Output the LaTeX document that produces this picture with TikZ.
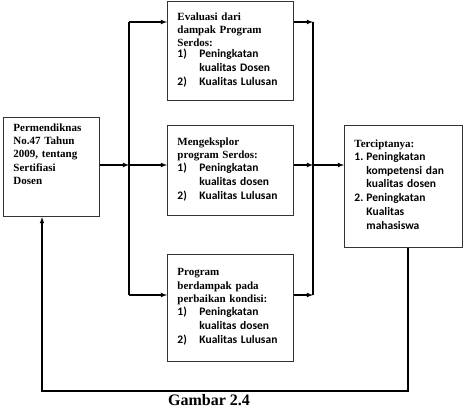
\documentclass[tikz,border=0pt]{standalone}
\usepackage{fontspec}
\setmainfont{Liberation Serif}
\newfontfamily\calibri{Carlito}
\usepackage{tikz}

\newcommand{\lst}[1]{{\calibri\bfseries\fontsize{11.5}{13.8}\selectfont\begin{tabular}{@{}p{22pt}@{}l@{}}#1\end{tabular}}}
\newcommand{\lstb}[1]{{\calibri\bfseries\fontsize{11.5}{13.8}\selectfont\begin{tabular}{@{}p{12pt}@{}l@{}}#1\end{tabular}}}

\begin{document}
\begin{tikzpicture}[x=1pt,y=-1pt,
	kotak/.style={draw=black!80,line width=0.9pt,anchor=north west,align=left,
		inner xsep=10pt,inner ysep=6pt,
		font=\fontsize{11}{13.4}\selectfont\bfseries},
	panah/.style={-latex,line width=1.1pt},
	garis/.style={line width=1.1pt}]
\useasboundingbox (0,0) rectangle (465,412);
\path (3,117) node[kotak,text width=76pt,minimum height=99pt] (perm)
			{Permendiknas\\No.47 Tahun\\2009, tentang\\Sertifiasi\\Dosen\rule[-26pt]{0pt}{0pt}}
		(167,1) node[kotak,text width=106pt,minimum height=99pt] (eval)
			{Evaluasi dari\\dampak Program\\Serdos:\\
			\lst{1) & Peningkatan\\ & kualitas Dosen\\ 2) & Kualitas Lulusan}}
		(167,125) node[kotak,text width=106pt,minimum height=90pt] (eksplor)
			{Mengeksplor\\program Serdos:\\
			\lst{1) & Peningkatan\\ & kualitas dosen\\ 2) & Kualitas Lulusan}}
		(167,254) node[kotak,text width=106pt,minimum height=107pt] (dampak)
			{Program\\berdampak pada\\perbaikan kondisi:\\
			\lst{1) & Peningkatan\\ & kualitas dosen\\ 2) & Kualitas Lulusan}\rule[-16pt]{0pt}{0pt}}
		(344,125) node[kotak,text width=98pt,minimum height=122pt] (tercipta)
			{Terciptanya:\\
			\lstb{1. & Peningkatan\\ & kompetensi dan\\ & kualitas dosen\\
			2. & Peningkatan\\ & Kualitas\\ & mahasiswa}}
		(209,400) node[font=\fontsize{16}{18}\selectfont\bfseries] (gambar) {Gambar 2.4}
		;
\coordinate (l1) at (129,22);
\coordinate (l2) at (129,165);
\coordinate (l3) at (129,295);
\coordinate (r1) at (313,22);
\coordinate (r2) at (313,165);
\coordinate (r3) at (313,295);
\coordinate (fb) at (408,391);
\coordinate (fb2) at (42,391);
\draw[panah] (perm.east |- l2) -- (l2);
\draw[garis] (l1) -- (l3);
\draw[panah] (l1) -- (l1 -| eval.west);
\draw[panah] (l2) -- (l2 -| eksplor.west);
\draw[panah] (l3) -- (l3 -| dampak.west);
\draw[panah] (eval.east |- r1) -- (r1);
\draw[panah] (eksplor.east |- r2) -- (r2);
\draw[panah] (dampak.east |- r3) -- (r3);
\draw[garis] (r1) -- (r3);
\draw[panah] (r2) -- (r2 -| tercipta.west);
\draw[panah] (tercipta.south -| fb) -- (fb) -- (fb2) -- (perm.south -| fb2);
\end{tikzpicture}
\end{document}
